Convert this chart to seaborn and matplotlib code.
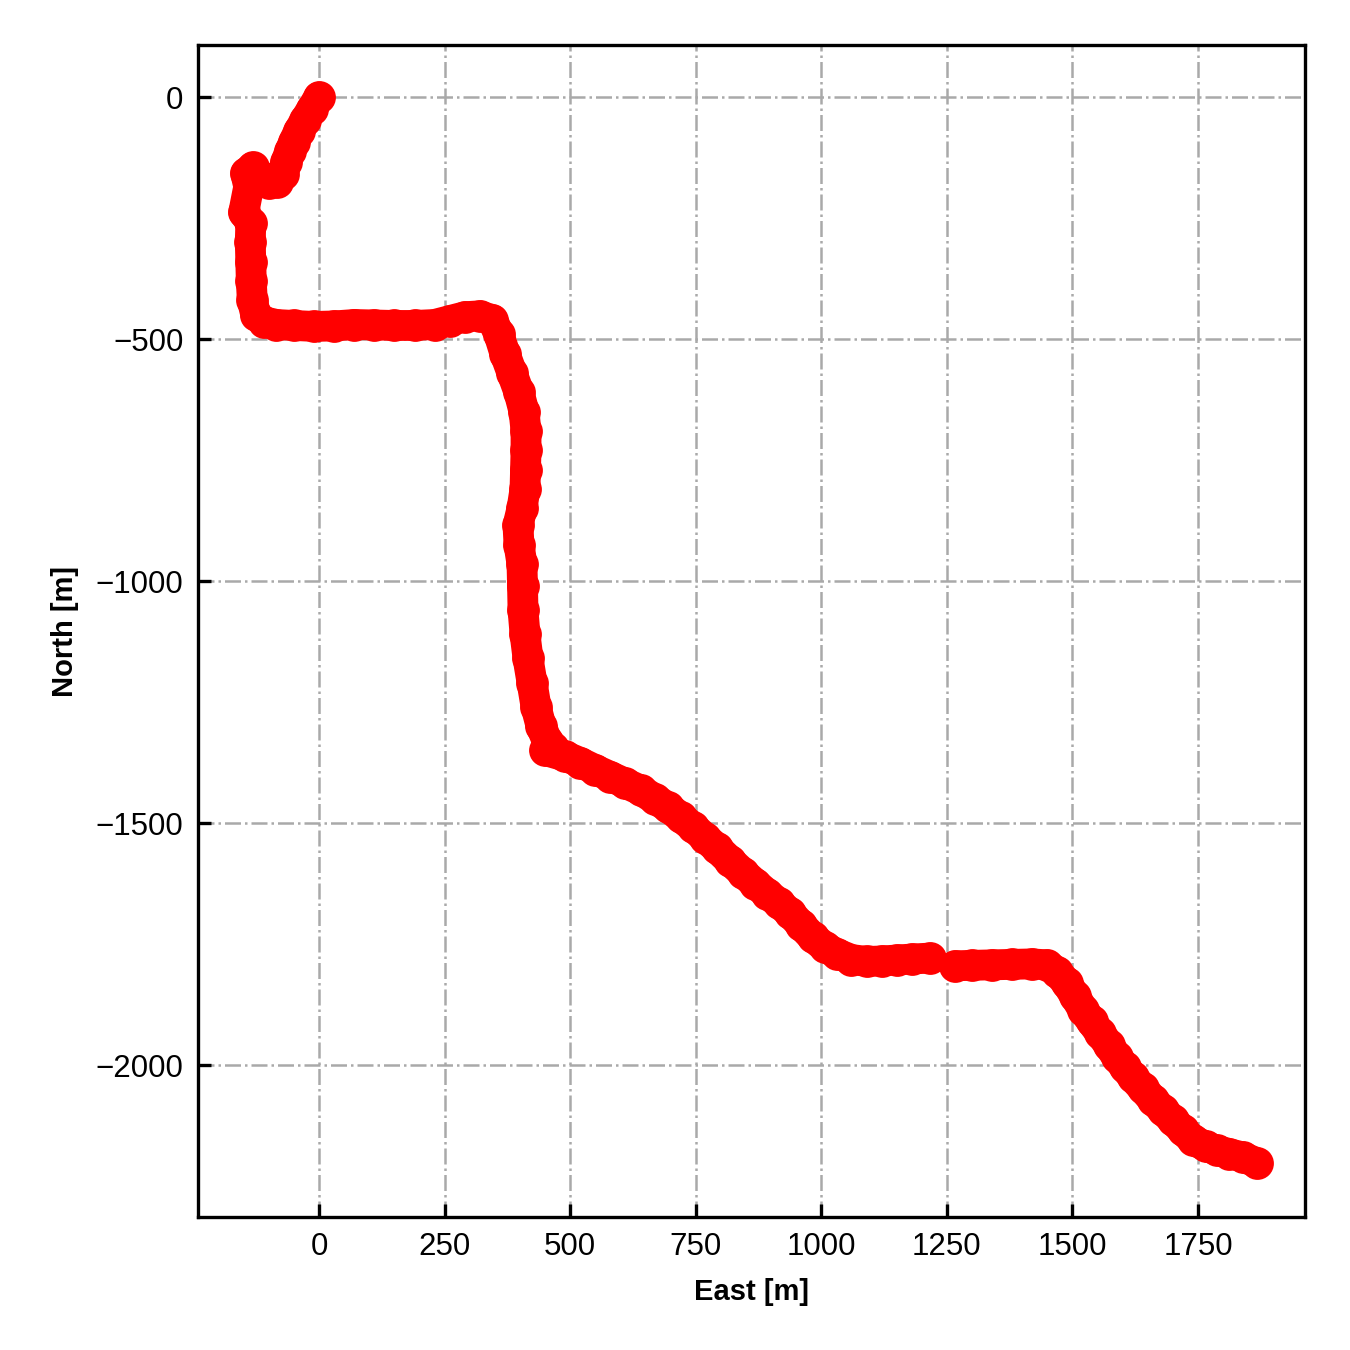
import numpy as np
import pandas as pd
import matplotlib
matplotlib.use("Agg")
import matplotlib.pyplot as plt
import seaborn as sns

# ── Trajectory waypoints (metres) ──
east_leg0 = [0, -14, -28, -40, -50, -58, -66, -72, -84, -100, -116, -132, -146,
             -140, -150, -136, -137, -136, -135, -133, -126, -110, -85, -50, -10,
             30, 70, 110, 150, 190, 230, 260, 290, 320, 345, 358, 370, 384, 398,
             408, 412, 412, 411, 410, 404, 396, 398, 404, 405, 406, 410, 416, 424,
             432, 442, 454, 466, 450, 490, 520, 550, 580, 610, 640, 668, 694, 720,
             744, 768, 792, 818, 844, 868, 892, 915, 938, 960, 983, 1008, 1031,
             1060, 1090, 1120, 1150, 1180, 1216]
north_leg0 = [0, -24, -48, -70, -92, -112, -134, -160, -176, -178, -165, -145, -158,
              -185, -238, -260, -300, -340, -380, -420, -450, -464, -470, -472, -474,
              -473, -470, -471, -472, -472, -470, -462, -454, -452, -460, -490, -530,
              -570, -610, -650, -690, -730, -770, -810, -850, -885, -925, -965, -1010,
              -1060, -1110, -1160, -1210, -1260, -1300, -1330, -1344, -1350, -1362,
              -1375, -1390, -1404, -1418, -1432, -1450, -1467, -1488, -1508, -1530,
              -1552, -1578, -1603, -1625, -1646, -1665, -1686, -1711, -1736, -1757,
              -1770, -1782, -1786, -1785, -1783, -1781, -1779]

east_leg1 = [1266, 1300, 1340, 1380, 1420, 1449, 1470, 1489, 1505, 1521, 1538, 1555,
             1572, 1588, 1604, 1620, 1640, 1660, 1680, 1700, 1720, 1740, 1765, 1787,
             1812, 1839, 1867]
north_leg1 = [-1795, -1794, -1793, -1792, -1791, -1793, -1808, -1831, -1858, -1886,
              -1910, -1934, -1958, -1983, -2004, -2025, -2048, -2072, -2093, -2114,
              -2135, -2155, -2168, -2176, -2183, -2190, -2202]

x_ticks = [0, 250, 500, 750, 1000, 1250, 1500, 1750]
y_ticks = [0, -500, -1000, -1500, -2000]

df = pd.DataFrame({
    "east": east_leg0 + east_leg1,
    "north": north_leg0 + north_leg1,
    "leg": [0] * len(east_leg0) + [1] * len(east_leg1),
})

sns.set_style("ticks")
plt.rcParams["font.family"] = ["Liberation Sans", "DejaVu Sans"]
plt.rcParams["axes.unicode_minus"] = True

fig = plt.figure(figsize=(4.5, 4.5), dpi=300)
ax = fig.add_axes([0.1467, 0.0985, 0.82, 0.868])

# thick band joining the fixes, then the fixes themselves on top
sns.lineplot(data=df, x="east", y="north", units="leg", estimator=None, sort=False,
             color="red", lw=7.4, solid_capstyle="round", solid_joinstyle="round",
             ax=ax, zorder=3, legend=False)
sns.scatterplot(data=df, x="east", y="north", color="red", s=62, linewidth=0,
                ax=ax, zorder=4, legend=False)

ax.set_xlim(-241, 1963)
ax.set_ylim(-2314, 107)
ax.set_xticks(x_ticks)
ax.set_yticks(y_ticks)
ax.grid(True, color="darkgray", linestyle="-.", lw=0.6)
ax.set_axisbelow(True)
ax.tick_params(direction="in", length=3.2, width=0.8, labelsize=7.5,
               colors="black")
for sp in ax.spines.values():
    sp.set_linewidth(0.8)
    sp.set_color("black")

ax.set_xlabel("East [m]", fontsize=7, fontweight="bold", color="black")
ax.set_ylabel("North [m]", fontsize=7, fontweight="bold", color="black")

fig.savefig("out.png", dpi=300)
plt.close(fig)
